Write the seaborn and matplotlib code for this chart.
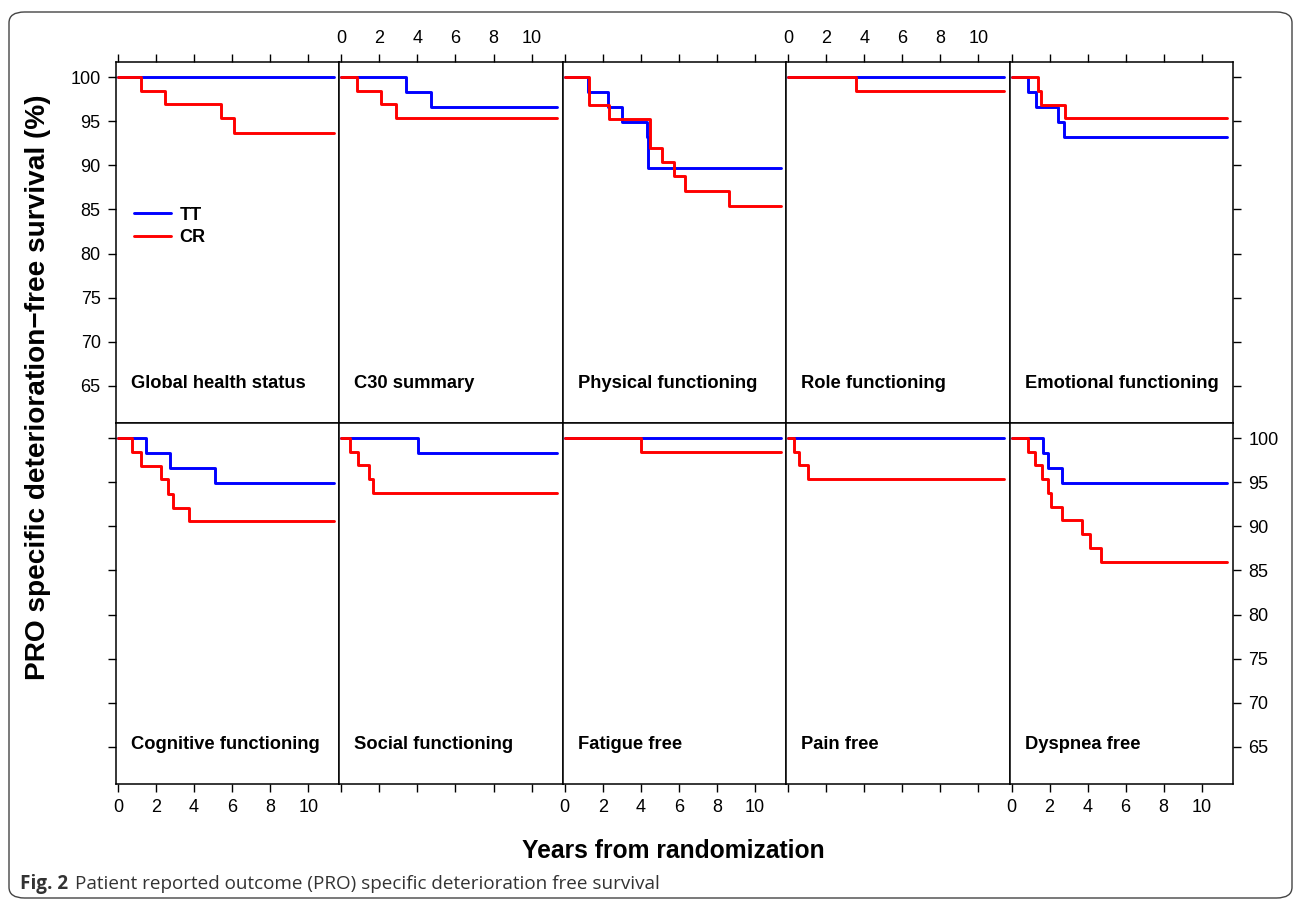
import pandas as pd
import matplotlib.pyplot as plt
import seaborn as sns
from matplotlib.lines import Line2D
from matplotlib.patches import FancyBboxPatch

sns.set_theme(style='white')
plt.rcParams['font.family'] = ['Liberation Sans', 'DejaVu Sans']
plt.rcParams['text.color'] = 'black'

#Panel names, in lattice order (top row then bottom row)
panel_names = ['Global health status', 'C30 summary', 'Physical functioning',
               'Role functioning', 'Emotional functioning',
               'Cognitive functioning', 'Social functioning', 'Fatigue free',
               'Pain free', 'Dyspnea free']

#Event times (years) and survival (%) after each step, per panel
tt_times = [[], [3.4, 4.7], [1.25, 2.3, 3.0, 4.3, 4.4], [], [0.85, 1.3, 2.45, 2.75],
            [1.5, 2.75, 5.1], [4.05], [], [], [1.65, 1.9, 2.65]]
tt_surv = [[], [98.3, 96.6], [98.3, 96.6, 94.9, 93.2, 89.7], [], [98.3, 96.6, 94.9, 93.2],
           [98.3, 96.6, 94.9], [98.3], [], [], [98.3, 96.6, 94.9]]

cr_times = [[1.2, 2.5, 5.4, 6.1], [0.85, 2.1, 2.9], [1.3, 2.35, 4.5, 5.1, 5.75, 6.3, 8.65],
            [3.55], [1.38, 1.55, 2.8], [0.75, 1.2, 2.25, 2.65, 2.9, 3.75],
            [0.45, 0.9, 1.45, 1.65], [4.0], [0.3, 0.55, 1.05],
            [0.85, 1.25, 1.6, 1.9, 2.1, 2.65, 3.7, 4.1, 4.7]]
cr_surv = [[98.4, 96.9, 95.3, 93.7], [98.4, 96.9, 95.3], [96.8, 95.2, 92.0, 90.4, 88.8, 87.1, 85.4],
           [98.4], [98.4, 96.8, 95.3], [98.4, 96.8, 95.3, 93.7, 92.1, 90.6],
           [98.4, 96.9, 95.3, 93.8], [98.4], [98.4, 96.9, 95.3],
           [98.4, 96.9, 95.3, 93.8, 92.2, 90.7, 89.1, 87.5, 85.9]]

end_time = 11.35
x_ticks = [0, 2, 4, 6, 8, 10]
y_ticks = [65, 70, 75, 80, 85, 90, 95, 100]

#Build a long table of step points
rows = []
for i, name in enumerate(panel_names):
    for arm, times, surv in [('TT', tt_times[i], tt_surv[i]), ('CR', cr_times[i], cr_surv[i])]:
        rows.append((name, arm, 0.0, 100.0))
        last = 100.0
        for t, s in zip(times, surv):
            rows.append((name, arm, t, s))
            last = s
        rows.append((name, arm, end_time, last))
df = pd.DataFrame(rows, columns=['panel', 'arm', 'time', 'surv'])

palette = {'TT': 'blue', 'CR': 'red'}

fig = plt.figure(figsize=(12.95, 9.02), dpi=100)

W, H = 1295, 902
left0, pw = 116, 223.4
tops = [62, 423]
ph = 361

for i, name in enumerate(panel_names):
    r, c = divmod(i, 5)
    x0 = left0 + c * pw
    y_top = tops[r]
    ax = fig.add_axes([x0 / W, 1 - (y_top + ph) / H, pw / W, ph / H])
    sub = df[df['panel'] == name]
    sns.lineplot(data=sub, x='time', y='surv', hue='arm', palette=palette,
                 hue_order=['TT', 'CR'], drawstyle='steps-post', estimator=None,
                 errorbar=None, linewidth=2.1, legend=False, ax=ax)
    ax.set_xlim(-0.1, 11.64)
    ax.set_ylim(60.8, 101.7)
    ax.set_xlabel('')
    ax.set_ylabel('')
    for sp in ax.spines.values():
        sp.set_color('black')
        sp.set_linewidth(1.1)

    ax.set_xticks(x_ticks)
    ax.set_yticks(y_ticks)
    ax.tick_params(direction='out', length=6, width=1, color='black',
                   labelsize=13, labelcolor='black', pad=5,
                   bottom=False, top=False, left=False, right=False,
                   labelbottom=False, labeltop=False, labelleft=False, labelright=False)
    if r == 0:
        ax.tick_params(axis='x', top=True, labeltop=(c % 2 == 1))
    else:
        ax.tick_params(axis='x', bottom=True, labelbottom=(c % 2 == 0))
    if c == 0:
        ax.tick_params(axis='y', left=True, labelleft=(r == 0))
    if c == 4:
        ax.tick_params(axis='y', right=True, labelright=(r == 1))

    ax.text(0.067, 0.11, name, transform=ax.transAxes, fontsize=13.2,
            fontweight='bold', va='center', ha='left', color='black')

    if i == 0:
        handles = [Line2D([], [], color='blue', lw=2.1), Line2D([], [], color='red', lw=2.1)]
        leg = ax.legend(handles, ['TT', 'CR'], loc='center left', bbox_to_anchor=(0.01, 0.545),
                        frameon=False, handlelength=2.0, handletextpad=0.5,
                        labelspacing=0.3, prop={'weight': 'bold', 'size': 13})

fig.text(38 / W, 1 - 387 / H, 'PRO specific deterioration\u2212free survival (%)',
         rotation=90, fontsize=20.2, fontweight='bold', ha='center', va='center')
fig.text(673 / W, 1 - 851 / H, 'Years from randomization', fontsize=17.7,
         fontweight='bold', ha='center', va='center')

#Caption and frame
cap_font = ['Open Sans', 'DejaVu Sans']
t1 = fig.text(20 / W, 1 - 884 / H, 'Fig. 2', fontsize=13.6, fontweight='bold',
              family=cap_font, color='#333333', va='center')
fig.canvas.draw()
bb = t1.get_window_extent()
fig.text((bb.x1 + 7) / W, 1 - 884 / H,
         'Patient reported outcome (PRO) specific deterioration free survival',
         fontsize=13.6, family=cap_font, color='#333333', va='center')
frame = FancyBboxPatch((9 / W, 1 - 898 / H), (1292 - 9) / W, (898 - 12) / H,
                       boxstyle='round,pad=0,rounding_size=0.012', transform=fig.transFigure,
                       fill=False, edgecolor='#444444', linewidth=1.0)
fig.patches.append(frame)

fig.savefig('out.png', dpi=100)
